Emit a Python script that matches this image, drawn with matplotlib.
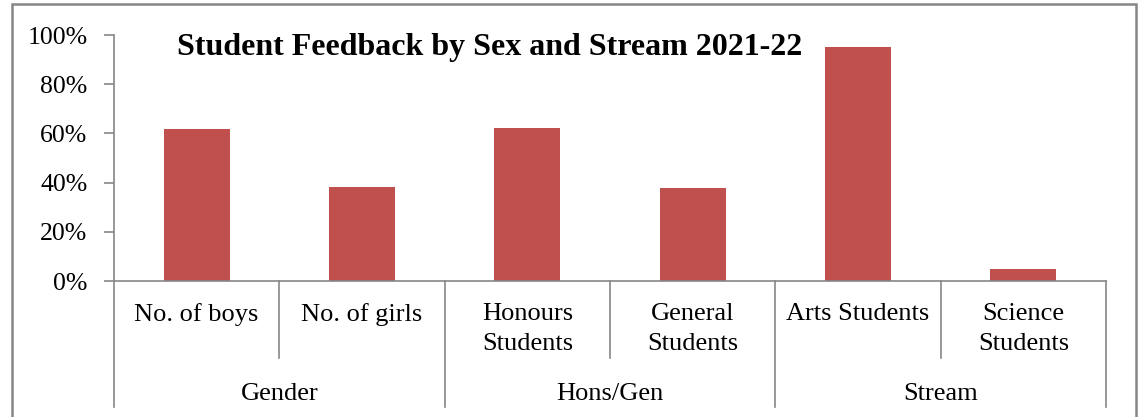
import matplotlib
matplotlib.use("Agg")
import matplotlib.pyplot as plt
from matplotlib.transforms import blended_transform_factory
from matplotlib.patches import Rectangle
from matplotlib.ticker import FuncFormatter

plt.rcParams['font.family'] = ['Liberation Serif', 'DejaVu Serif']

categories = ["No. of boys", "No. of girls", "Honours\nStudents", "General\nStudents",
              "Arts Students", "Science\nStudents"]
groups = ["Gender", "Hons/Gen", "Stream"]
values = [61.8, 38.2, 62.3, 37.7, 95.0, 5.0]
yticks = [0, 20, 40, 60, 80, 100]

W, H = 1143, 417
fig = plt.figure(figsize=(W / 100, H / 100), dpi=100)
ax = fig.add_axes([114 / W, (H - 281) / H, (1106 - 114) / W, (281 - 35) / H])

gray = "#868686"
x = list(range(len(categories)))
ax.bar(x, values, width=0.4, color="#C0504D", zorder=2)
ax.set_xlim(-0.5, len(categories) - 0.5)
ax.set_ylim(0, 100)
ax.set_yticks(yticks)
ax.yaxis.set_major_formatter(FuncFormatter(lambda v, p: f"{int(v)}%"))
ax.tick_params(axis='y', length=7, width=1.2, color=gray, labelsize=18.5, pad=12, direction='out')
for s in ['top', 'right']:
    ax.spines[s].set_visible(False)
for s in ['left', 'bottom']:
    ax.spines[s].set_color(gray)
    ax.spines[s].set_linewidth(1.2)

ax.set_xticks(x)
ax.set_xticklabels(categories)
ax.tick_params(axis='x', length=0, labelsize=19, pad=16)
for lbl in ax.get_xticklabels():
    lbl.set_linespacing(1.46)

trans = blended_transform_factory(ax.transData, ax.transAxes)
# separators
for i in range(len(categories) + 1):
    xp = i - 0.5
    y_end = -0.512 if i % 2 == 0 else -0.313
    ax.plot([xp, xp], [0, y_end], color=gray, lw=1.2, transform=trans, clip_on=False)

for gi, g in enumerate(groups):
    ax.text(gi * 2 + 0.5, -0.46, g, transform=trans, ha='center', va='center', fontsize=19)

fig.text(177 / W, 1 - 48 / H, "Student Feedback by Sex and Stream 2021-22",
         fontsize=23, fontweight='bold', ha='left', va='center')

fig.patches.append(Rectangle((12 / W, -0.1), (1136 - 12) / W, (H - 4) / H + 0.1,
                             transform=fig.transFigure, fill=False, edgecolor=gray,
                             lw=1.8, clip_on=False))

fig.savefig("out.png", dpi=100)
